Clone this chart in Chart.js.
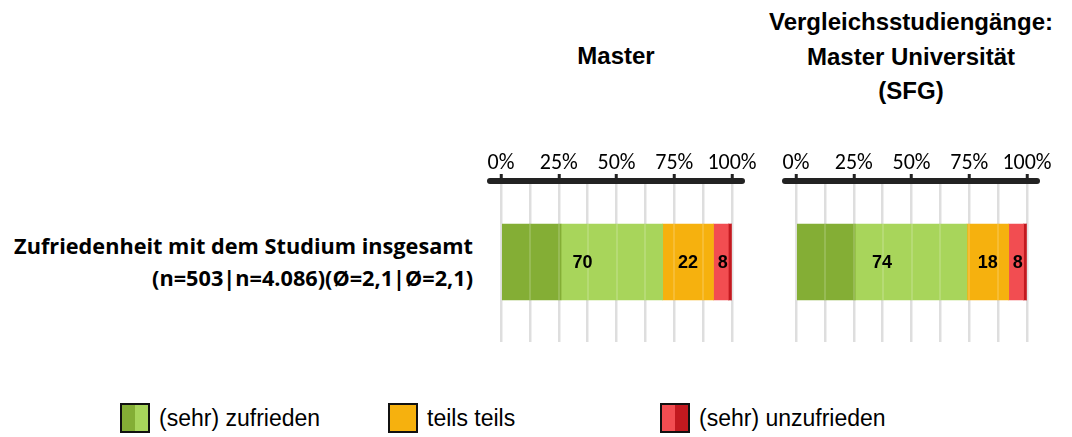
<!DOCTYPE html>
<html>
<head>
<meta charset="utf-8">
<script src="https://cdn.jsdelivr.net/npm/chart.js@4/dist/chart.umd.min.js"></script>
<style>
  body { margin: 0; background: #fff; width: 1072px; height: 437px; position: relative; overflow: hidden; }
  .abs { position: absolute; }
  .title { font-family: "Liberation Sans", Arial, sans-serif; font-weight: bold; font-size: 24px; color: #000; text-align: center; line-height: 34.5px; }
  .rowlabel { font-family: "Open Sans", Lato, sans-serif; font-weight: bold; font-size: 21.7px; color: #000; text-align: right; line-height: 32px; white-space: nowrap; }
  .legend { font-family: "Liberation Sans", Arial, sans-serif; font-size: 23px; color: #000; white-space: nowrap; display: flex; align-items: center; }
  .swatch { width: 26px; height: 26px; border: 2px solid #111; display: flex; margin-right: 9px; }
  .swatch span { flex: 1; }
  canvas { position: absolute; }
</style>
</head>
<body>

<div class="abs title" style="left:516px; top:39px; width:200px;" id="titleMaster"></div>
<div class="abs title" style="left:761px; top:5px; width:300px;" id="titleCompare"></div>
<div class="abs rowlabel" style="right:599px; top:230px;" id="rowLabel"></div>

<canvas id="chartMaster" width="310" height="230" style="left:460px; top:130px;"></canvas>
<canvas id="chartCompare" width="310" height="230" style="left:755px; top:130px;"></canvas>

<div class="abs legend" style="left:120px; top:403px;" id="leg0"></div>
<div class="abs legend" style="left:388px; top:403px;" id="leg1"></div>
<div class="abs legend" style="left:660px; top:403px;" id="leg2"></div>

<script>
// segments of the bar, left to right
const segmentNames = ['sehr zufrieden', 'zufrieden', 'teils teils', 'unzufrieden', 'sehr unzufrieden'];
const segmentColors = ['#84ae35', '#a8d55b', '#f6b10e', '#f24d51', '#c2191f'];

// values in percent
const masterValues = [26, 44, 22, 6.4, 1.6];
const compareValues = [25.6, 48.4, 18.1, 6.4, 1.5];

// which segments share one printed number
const labelGroups = [[0, 1], [2], [3, 4]];

const panelTitles = [['Master'], ['Vergleichsstudiengänge:', 'Master Universität', '(SFG)']];
const rowLabelLines = ['Zufriedenheit mit dem Studium insgesamt', '(n=503|n=4.086)(Ø=2,1|Ø=2,1)'];

const legendNames = ['(sehr) zufrieden', 'teils teils', '(sehr) unzufrieden'];
const legendGroups = [[0, 1], [2, 2], [3, 4]];

const tickStep = 12.5;
const tickLabelFont = { family: 'Carlito, Lato, sans-serif', size: 22 };

// --- text blocks ---
document.getElementById('titleMaster').innerHTML = panelTitles[0].join('<br>');
document.getElementById('titleCompare').innerHTML = panelTitles[1].join('<br>');
document.getElementById('rowLabel').innerHTML = rowLabelLines.join('<br>');

legendNames.forEach((name, i) => {
    const g = legendGroups[i];
    document.getElementById('leg' + i).innerHTML =
        `<div class="swatch"><span style="background:${segmentColors[g[0]]}"></span><span style="background:${segmentColors[g[1]]}"></span></div>${name}`;
});

// thick rounded axis, lighter grid over the bar, printed numbers
const overlayPlugin = {
    id: 'overlay',
    afterDatasetsDraw(chart) {
        const ctx = chart.ctx;
        const xs = chart.scales.x;
        const first = chart.getDatasetMeta(0).data[0];
        const barTop = first.y - first.height / 2;

        // faint grid through the bar
        ctx.save();
        ctx.strokeStyle = 'rgba(255,255,255,0.16)';
        ctx.lineWidth = 2;
        for (let v = 0; v <= 100; v += tickStep) {
            const px = Math.round(xs.getPixelForValue(v));
            ctx.beginPath();
            ctx.moveTo(px, barTop);
            ctx.lineTo(px, barTop + first.height);
            ctx.stroke();
        }
        ctx.restore();

        // numbers
        const values = chart.data.datasets.map(d => d.data[0]);
        ctx.save();
        ctx.font = 'bold 18px "Liberation Sans", Arial, sans-serif';
        ctx.fillStyle = '#000';
        ctx.textAlign = 'center';
        ctx.textBaseline = 'middle';
        labelGroups.forEach(g => {
            const a = chart.getDatasetMeta(g[0]).data[0];
            const b = chart.getDatasetMeta(g[g.length - 1]).data[0];
            const sum = g.reduce((s, i) => s + values[i], 0);
            ctx.fillText(String(Math.round(sum)), (a.base + b.x) / 2, a.y + 1);
        });
        ctx.restore();
    },
    afterDraw(chart) {
        const ctx = chart.ctx;
        const area = chart.chartArea;
        ctx.save();
        ctx.strokeStyle = '#222';
        ctx.lineWidth = 6;
        ctx.lineCap = 'round';
        ctx.beginPath();
        ctx.moveTo(area.left - 11, area.top - 1);
        ctx.lineTo(area.right + 10, area.top - 1);
        ctx.stroke();
        ctx.restore();
    }
};

function buildPanel(canvasId, values) {
    return new Chart(document.getElementById(canvasId), {
        type: 'bar',
        data: {
            labels: [''],
            datasets: segmentNames.map((name, i) => ({
                label: name,
                data: [values[i]],
                backgroundColor: segmentColors[i],
                borderWidth: 0,
                barThickness: 76
            }))
        },
        options: {
            indexAxis: 'y',
            responsive: false,
            animation: false,
            layout: { padding: { left: 41, right: 38, top: 12, bottom: 18 } },
            plugins: { legend: { display: false }, tooltip: { enabled: false } },
            scales: {
                x: {
                    position: 'top',
                    stacked: true,
                    min: 0,
                    max: 100,
                    afterFit(scale) { scale.height = 40; },
                    border: { display: false },
                    grid: {
                        color: '#dedede',
                        lineWidth: 2.5,
                        tickLength: 8,
                        tickWidth: 3,
                        tickColor: c => (c.tick && c.tick.value % 25 === 0) ? '#222' : 'rgba(0,0,0,0)'
                    },
                    ticks: {
                        stepSize: tickStep,
                        autoSkip: false,
                        maxRotation: 0,
                        padding: -3,
                        color: '#000',
                        font: tickLabelFont,
                        callback: v => (v % 25 === 0 ? v + '%' : '')
                    }
                },
                y: { stacked: true, display: false }
            }
        },
        plugins: [overlayPlugin]
    });
}

window.onload = () => {
    buildPanel('chartMaster', masterValues);
    buildPanel('chartCompare', compareValues);
};
</script>
</body>
</html>
